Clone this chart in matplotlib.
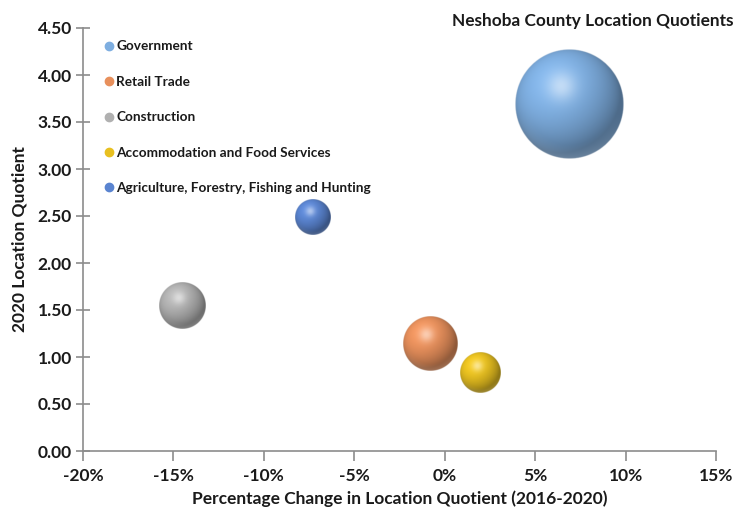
import numpy as np
import matplotlib
matplotlib.use("Agg")
import matplotlib.pyplot as plt
from matplotlib.lines import Line2D
from matplotlib.colors import to_rgb
from matplotlib.ticker import FuncFormatter

# --- Data ---
industries = ["Government", "Retail Trade", "Construction",
              "Accommodation and Food Services",
              "Agriculture, Forestry, Fishing and Hunting"]
pct_change = [6.9, -0.8, -14.5, 1.95, -7.3]      # % change in LQ 2016-2020
lq_2020 = [3.69, 1.14, 1.54, 0.83, 2.48]         # 2020 location quotient
bubble_size = [2970, 730, 530, 400, 310]          # relative bubble size (area)
colors = ["#7eaee0", "#e8905c", "#b0b0b0", "#e8c020", "#5a84d0"]

XMIN, XMAX = -20, 15
YMIN, YMAX = 0, 4.5
MAX_RADIUS_PX = 54.5

plt.rcParams['font.family'] = ['Lato', 'DejaVu Sans']

fig = plt.figure(figsize=(7.34, 5.12), dpi=100)
ax = fig.add_axes([83 / 734, 61 / 512, 633 / 734, 423 / 512])
ax.set_xlim(XMIN, XMAX)
ax.set_ylim(YMIN, YMAX)


def sphere_image(color, n=240):
    base = np.array(to_rgb(color))
    lin = np.linspace(-1, 1, n)
    u, v = np.meshgrid(lin, lin)
    r = np.sqrt(u ** 2 + v ** 2)
    nz = np.sqrt(np.clip(1 - r ** 2, 0, 1))
    L = np.array([-0.35, 0.45, 0.82])
    L = L / np.linalg.norm(L)
    diff = np.clip(u * L[0] + v * L[1] + nz * L[2], 0, 1)
    shade = 0.62 + 0.45 * diff
    hl = np.exp(-((u + 0.15) ** 2 + (v - 0.33) ** 2) / 0.07)
    rim = np.clip(-v - 0.2, 0, 1) * np.clip(r - 0.75, 0, 1) * 0.8
    rgb = base[None, None, :] * shade[..., None]
    rgb = rgb + (1 - rgb) * (0.5 * hl + rim)[..., None]
    rgb = np.clip(rgb, 0, 1)
    alpha = np.clip((1 - r) * n / 2.5, 0, 1)
    return np.dstack([rgb, alpha])


# pixel scale of data units
fig.canvas.draw()
bbox = ax.get_window_extent()
px_x = bbox.width / (XMAX - XMIN)
px_y = bbox.height / (YMAX - YMIN)
smax = max(bubble_size)

order = np.argsort(bubble_size)[::-1]
for z, i in enumerate(order):
    r_px = MAX_RADIUS_PX * np.sqrt(bubble_size[i] / smax)
    dx = r_px / px_x
    dy = r_px / px_y
    x, y = pct_change[i], lq_2020[i]
    ax.imshow(sphere_image(colors[i]), extent=[x - dx, x + dx, y - dy, y + dy],
              origin='lower', interpolation='bilinear', zorder=3 + z, aspect='auto')
ax.set_xlim(XMIN, XMAX)
ax.set_ylim(YMIN, YMAX)
ax.set_aspect('auto')

# axes styling
for s in ['top', 'right']:
    ax.spines[s].set_visible(False)
for s in ['left', 'bottom']:
    ax.spines[s].set_color('#8c8c8c')
    ax.spines[s].set_linewidth(1.2)
ax.set_xticks(np.arange(-20, 16, 5))
ax.set_yticks(np.arange(0, 4.51, 0.5))
ax.xaxis.set_major_formatter(FuncFormatter(lambda v, p: f"{v:.0f}%"))
ax.yaxis.set_major_formatter(FuncFormatter(lambda v, p: f"{v:.2f}"))
ax.tick_params(axis='y', direction='inout', length=10, width=1.2, color='#8c8c8c',
               labelsize=12.5, pad=3)
ax.tick_params(axis='x', direction='out', length=7, width=1.2, color='#8c8c8c',
               labelsize=12.5, pad=5)
for lab in ax.get_xticklabels() + ax.get_yticklabels():
    lab.set_fontweight('bold')
    lab.set_color('#1a1a1a')

ax.set_xlabel("Percentage Change in Location Quotient (2016-2020)", fontsize=12.5,
              fontweight='bold', color='#1a1a1a', labelpad=5)
ax.set_ylabel("2020 Location Quotient", fontsize=12.5, fontweight='bold',
              color='#1a1a1a', labelpad=7)

fig.text(733 / 734, 1 - 21 / 512, "Neshoba County Location Quotients", fontsize=12.4,
         fontweight='bold', color='#1a1a1a', ha='right', va='center')

# legend
handles = [Line2D([], [], marker='o', linestyle='none', markersize=6,
                  markerfacecolor=c, markeredgecolor=c) for c in colors]
leg = ax.legend(handles, industries, loc='upper left', bbox_to_anchor=(0.015, 0.993),
                frameon=False, fontsize=9.8, labelspacing=1.72, handletextpad=0.05,
                handlelength=1.0, borderaxespad=0.3)
for t in leg.get_texts():
    t.set_fontweight('bold')
    t.set_color('#1a1a1a')

fig.savefig("out.png", dpi=100)
